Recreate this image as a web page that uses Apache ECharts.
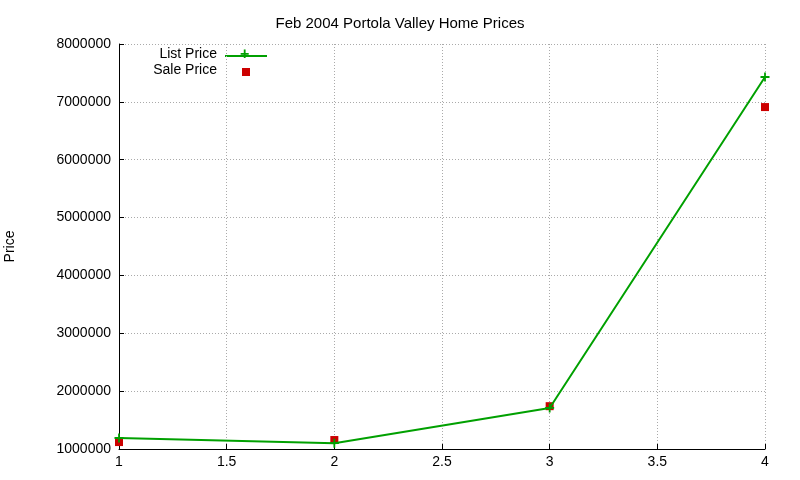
<!DOCTYPE html>
<html><head><meta charset="utf-8">
<script src="https://cdn.jsdelivr.net/npm/echarts@6/dist/echarts.min.js"></script>
<style>html,body{margin:0;background:#fff}#c{width:800px;height:480px}</style>
</head><body><div id="c"></div>
<script>
const xs = [1, 2, 3, 4];
const listPrice = [1190000, 1100000, 1710000, 7430000];
const salePrice = [1120000, 1155000, 1740000, 6910000];
const seriesNames = ['List Price', 'Sale Price'];
const chart = echarts.init(document.getElementById('c'));
const font = 'Liberation Sans, Arial, sans-serif';
const txt = {fontFamily: font, fontSize: 14, fill: '#000'};
chart.setOption({
  animation: false,
  title: {text: 'Feb 2004 Portola Valley Home Prices', left: 'center', top: 11,
    textStyle: {fontFamily: font, fontSize: 15, fontWeight: 'normal', color: '#000'}},
  grid: {left: 119, right: 35, top: 44, bottom: 31, outerBoundsMode: 'none', containLabel: false},
  graphic: [
    {type: 'text', right: 800 - 217, top: 47, style: Object.assign({text: seriesNames[0]}, txt)},
    {type: 'line', shape: {x1: 225, y1: 56, x2: 267, y2: 56}, style: {stroke: '#00a000', lineWidth: 2}},
    {type: 'text', left: 240, top: 47, style: {text: '+', fontFamily: font, fontSize: 16, fontWeight: 'bold', fill: '#00a000'}},
    {type: 'text', right: 800 - 217, top: 63, style: Object.assign({text: seriesNames[1]}, txt)},
    {type: 'rect', shape: {x: 242, y: 68, width: 8, height: 8}, style: {fill: '#cc0000'}}
  ],
  xAxis: {type: 'value', min: 1, max: 4, interval: 0.5,
    axisLine: {show: true, onZero: false, lineStyle: {color: '#000'}},
    axisTick: {inside: true, lineStyle: {color: '#000'}},
    axisLabel: {fontFamily: font, fontSize: 14, color: '#000', margin: 6},
    splitLine: {lineStyle: {color: '#aaa', type: [1, 2]}}},
  yAxis: {type: 'value', min: 1000000, max: 8000000, interval: 1000000,
    name: 'Price', nameLocation: 'middle', nameRotate: 90, nameGap: 102,
    nameTextStyle: {fontFamily: font, fontSize: 14, color: '#000'},
    axisLine: {show: true, lineStyle: {color: '#000'}},
    axisTick: {inside: true, lineStyle: {color: '#000'}},
    axisLabel: {fontFamily: font, fontSize: 14, color: '#000', margin: 8, formatter: v => String(v)},
    splitLine: {lineStyle: {color: '#aaa', type: [1, 2]}}},
  series: [
    {name: seriesNames[0], type: 'line', data: xs.map((x, i) => [x, listPrice[i]]),
      color: '#00a000', lineStyle: {width: 2}, symbol: 'path://M4,0 L6,0 L6,4 L10,4 L10,6 L6,6 L6,10 L4,10 L4,6 L0,6 L0,4 L4,4 Z',
      symbolSize: 9, itemStyle: {color: '#00a000', opacity: 1}},
    {name: seriesNames[1], type: 'scatter', data: xs.map((x, i) => [x, salePrice[i]]),
      symbol: 'rect', symbolSize: 8, itemStyle: {color: '#cc0000', opacity: 1}}
  ]
});
</script></body></html>
